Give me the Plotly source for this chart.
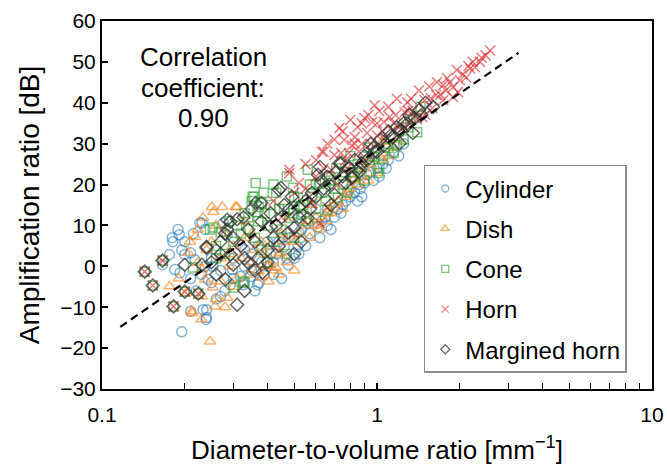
import plotly.graph_objects as go

# ---------------- data ----------------
cyl_x = [0.166,0.176,0.181,0.18,0.189,0.191,0.184,0.192,0.195,0.2,0.21,0.231,0.237,0.218,0.237,0.243,0.24,0.24,0.195,0.27,
         0.276,0.253,0.293,0.298,0.319,0.327,0.368,0.285,0.239,0.233,0.21,0.227,0.372,0.347,0.42,0.475,0.516,0.46,0.455,0.52,
         0.61,0.56,0.86,0.79,0.92,0.87,0.9,0.2,0.215,0.26,0.3,0.33,0.35,0.38,0.4,0.43,0.5,0.55,0.62,0.65,
         0.7,0.72,0.75,0.8,0.95,1.0,1.05,1.1,0.4,0.45,0.36,0.5,0.6,0.25,0.22,0.26,0.68,0.85,1.15,1.25,
         0.33,0.37,0.41,0.44,0.48,0.53,0.57,0.63,0.66,0.74,0.77,0.83,0.88,0.97,1.02,1.08,1.2,0.3,0.35,0.39,
         0.42,0.47,0.52,0.28,0.23,0.21,0.25,0.27]
cyl_y = [0.4,2.9,6,7,9,7.7,-0.8,-1.6,4,2.9,3.3,10.6,9,1.6,0,-3.2,-10.6,-12.5,-16,-7.4,
         10.6,0,-4.5,-0.8,-2.5,-4.5,-4.5,7.7,-13,-10.6,-11,10.6,-4,-2.5,-2,0.4,4.8,4.8,7.2,8.2,
         9.7,10.6,20,18.7,22.4,19,20.4,6,8,4,2,0,3,1,0,3,2,5,7,12,
         12,14,15,17,23,24,25,26,6,-3,-6,12,14,-4,-6,-8,9,16,28,30,
         4,5,3,6,7,9,8,11,10,13,16,18,17,21,22,24,27,-3,-1,-2,
         1,2,3,-6,-2,-3,2,-1]

dish_x = [0.251,0.274,0.306,0.254,0.233,0.223,0.209,0.206,0.223,0.231,0.176,0.203,0.213,0.231,0.258,0.247,0.285,0.253,0.24,0.218,
          0.237,0.27,0.212,0.31,0.447,0.403,0.42,0.403,0.4,0.44,0.43,0.38,0.68,1.0,1.04,0.26,0.28,0.3,0.32,0.29,
          0.34,0.36,0.35,0.33,0.38,0.45,0.5,0.55,0.6,0.65,0.72,0.78,0.85,0.9,0.95,1.1,1.2,0.3,0.23,0.5,
          0.47,0.57,0.62,0.75,0.82,0.48,0.58,0.19,
          0.35,0.37,0.39,0.41,0.46,0.52,0.56,0.61,0.66,0.7,0.77,0.8,0.88,0.93,1.05,1.15,0.27,0.25,0.29,0.31,
          0.26,0.28,0.33,0.44]
dish_y = [14.5,14.5,14.5,13.3,11.9,9,6,3.3,0.9,-0.8,-4.9,-6.5,-11.4,-7.4,-9.8,-18.4,-7.7,-5.2,4,7.2,
          -3.2,-3.7,-11,14.5,3.3,0.4,-1,-3.7,0,2.9,-0.3,-2.7,13,22.8,30.4,10,8,5,2,0,
          -2,4,8,11,6,8,6,10,12,11,16,18,20,24,25,27,31,-5,-13,-1,
          1,7,9,14,21,12,15,-3,
          1,-1,3,5,6,8,11,10,13,15,17,19,22,21,26,29,2,6,3,-3,
          -8,-10,7,-2]

cone_x = [0.143,0.166,0.153,0.182,0.2,0.224,0.362,0.357,0.35,0.372,0.33,0.247,0.27,0.33,0.3,0.353,0.38,0.34,0.253,0.214,
          0.327,0.495,0.495,0.53,0.56,0.387,0.368,0.43,0.516,0.62,0.66,0.72,0.53,0.48,0.81,0.94,0.88,1.44,1.39,1.4,
          1.18,1.15,0.93,0.98,1.02,0.83,1.01,0.3,0.32,0.4,0.42,0.45,0.5,0.55,0.6,0.65,0.7,0.75,0.78,0.9,
          1.05,1.1,1.25,1.3,0.28,0.26,0.38,0.44,0.58,0.68,0.47,0.4,0.36,
          0.31,0.34,0.37,0.39,0.41,0.46,0.5,0.54,0.57,0.63,0.67,0.71,0.76,0.85,0.96,1.08,1.2,1.32,0.29,0.26,
          0.42,0.47,0.6,0.8]
cone_y = [-1.3,1.4,-4.7,-9.8,-6.2,-6.7,20.4,17,16,14.5,13,9,8.4,-4,-5.2,17,15.5,12,9.5,-0.3,
          -3.7,13,19.2,14.3,23.6,18,13.3,18,16.8,20.4,13.8,16.8,12.6,11.8,23,26,24.3,39,36.3,32.8,
          29.6,27.7,29,26.7,24,21.9,22.8,6,8,10,6,9,7,11,12,16,19,20,18,21,
          27,29,31,34,3,2,4,14,17,21,3,1,7,
          10,9,11,13,15,14,17,15,20,18,22,24,23,25,27,30,33,36,11,5,
          20,22,20,27]

horn_x = [0.143,0.166,0.153,0.182,0.2,0.224,2.58,2.48,2.37,2.27,2.18,2.0,1.89,1.78,1.74,1.64,1.57,1.49,1.29,1.26,
          1.17,1.11,0.98,0.96,0.88,0.8,0.92,0.83,0.76,0.79,1.14,1.31,1.46,1.59,1.74,1.89,1.97,1.84,2.11,2.23,
          0.9,0.73,0.64,0.7,0.77,0.68,0.83,1.06,1.07,0.48,0.63,0.74,0.81,0.48,0.52,0.64,0.58,0.66,0.62,1.0,
          1.2,1.35,1.4,0.86,0.95,1.05,1.25,0.55,0.6,0.72,0.78,0.9,1.5,1.7,2.05,0.45,0.5,
          0.55,0.6,0.66,0.7,0.75,0.85,0.93,1.02,1.1,1.18,1.33,1.42,1.55,1.65,1.8,1.95,2.15,2.4,0.88,1.15,
          0.5,0.42,1.0,1.3]
horn_y = [-1.3,1.4,-4.7,-9.8,-6.2,-6.7,52.8,51.6,50,48.7,48.4,45.5,43.8,43,44.3,41.9,41.1,40.6,40.1,37.7,
          37,36.5,39.4,35.3,35,35.8,32.6,31.6,30.9,27.7,33.3,35,36.5,38.7,40.6,41.4,42.6,45,46.2,50,
          36.3,33.8,28,27.2,26,23.6,30,35.3,30.9,23.6,28,27.7,29.6,22.8,20.4,24,15.5,14.5,10.6,32,
          34,38,36,28,30,33,34,19,22,20,24,26,37,42,47,12,8,
          25,26,30,31,33,34,37,38,39,41,41,43,44,45,46,48,49,51,30,35,
          18,16,35,38]

mh_x = [0.143,0.166,0.153,0.182,0.2,0.224,0.293,0.285,0.31,0.327,0.27,0.24,0.231,0.3,0.281,0.31,0.293,0.34,0.362,0.384,
        0.2,0.24,0.285,0.44,0.35,0.447,0.61,0.74,1.0,0.88,0.81,0.7,0.56,0.5,0.475,0.38,0.41,0.52,0.86,0.66,
        1.37,1.29,1.22,1.14,1.06,0.98,0.92,0.86,0.81,0.77,1.31,1.42,1.35,1.21,0.73,0.62,0.32,0.36,0.4,0.42,
        0.45,0.48,0.55,0.58,0.64,0.68,0.75,0.95,1.1,1.5,1.6,0.37,0.44,0.5,0.26,0.33,0.53,
        0.3,0.34,0.38,0.41,0.43,0.46,0.49,0.52,0.57,0.6,0.63,0.67,0.71,0.79,0.83,0.9,0.97,1.03,1.12,1.18,
        1.25,1.45,0.27,0.25,0.33,0.36,0.4,0.28]
mh_y = [-1.3,1.4,-4.7,-9.8,-6.2,-6.7,10.9,9,11.5,12,6,4.5,0.4,0.4,-3.2,-9.4,2.9,0.9,15.5,-1.5,
        0.4,4.8,11.4,18.7,14,19.2,22.4,25.2,28,25.2,21.6,17.5,11.8,9.4,8.2,15.5,9.7,14.5,23,21.9,
        36.3,35,33.3,31.6,29.6,28,26,24,21.9,20.4,37,38.2,32.6,30.1,25.2,24.3,5,6,4,7,
        12,14,16,18,19,15,22,30,33,40,39,2,5,3,-2,-6,6,
        7,9,11,13,10,15,17,12,14,17,21,20,23,24,26,27,29,31,32,34,
        35,37,3,1,2,-1,1,8]

trend_x = [0.1165, 3.27]
trend_y = [-14.8, 52.2]

series_names = ["Cylinder", "Dish", "Cone", "Horn", "Margined horn"]
x_tickvals = [0.1, 1, 10]
x_ticktext = ["0.1", "1", "10"]
annotation_lines = ["Correlation", "coefficient:", "0.90"]
annotation_line_y = [0.902, 0.818, 0.736]

# ---------------- styles ----------------
FONT = "Arial, Liberation Sans, sans-serif"
styles = [
    ("circle-open", "rgba(31,119,180,0.55)", 10),
    ("triangle-up-open", "rgba(255,127,14,0.6)", 10),
    ("square-open", "rgba(44,160,44,0.6)", 9),
    ("x-thin-open", "rgba(214,39,40,0.6)", 10),
    ("diamond-open", "rgba(50,50,50,0.75)", 10),
]
data = [(cyl_x, cyl_y), (dish_x, dish_y), (cone_x, cone_y), (horn_x, horn_y), (mh_x, mh_y)]

fig = go.Figure()
for name, (xs, ys), (sym, col, sz) in zip(series_names, data, styles):
    fig.add_trace(go.Scatter(
        x=xs, y=ys, mode="markers", name=name, showlegend=False,
        marker=dict(symbol=sym, size=sz, color=col, line=dict(width=1.5, color=col)),
    ))

fig.add_trace(go.Scatter(
    x=trend_x, y=trend_y, mode="lines", showlegend=False,
    line=dict(color="black", width=2.2, dash="8px,5px"),
))

# legend-only traces with small symbols
for name, (sym, col, sz) in zip(series_names, styles):
    fig.add_trace(go.Scatter(
        x=[None], y=[None], mode="markers", name=name, legendgroup=name,
        marker=dict(symbol=sym, size=7, color=col, line=dict(width=1.3, color=col)),
    ))

for txt, yy in zip(annotation_lines, annotation_line_y):
    fig.add_annotation(
        text=txt, xref="paper", yref="paper", x=0.184, y=yy,
        xanchor="center", yanchor="middle", showarrow=False, align="center",
        font=dict(family=FONT, size=26, color="black"),
    )

fig.update_layout(
    width=667, height=468,
    margin=dict(l=102, r=15, t=21, b=79),
    paper_bgcolor="white", plot_bgcolor="white",
    font=dict(family=FONT, color="black"),
    legend=dict(
        x=0.585, y=0.609, xanchor="left", yanchor="top",
        bordercolor="#8c8c8c", borderwidth=1.5, bgcolor="white",
        font=dict(family=FONT, size=24, color="black"),
        traceorder="grouped", tracegroupgap=6, itemwidth=30,
    ),
    xaxis=dict(
        type="log", range=[-1, 1], tickvals=x_tickvals, ticktext=x_ticktext,
        ticks="inside", ticklen=6, tickwidth=1.5, tickcolor="black",
        showline=True, linecolor="black", linewidth=2, mirror=True,
        showgrid=False, zeroline=False, automargin=False, ticklabelstandoff=6,
        minor=dict(ticks="inside", ticklen=6, tickwidth=1.2, tickcolor="black", dtick="D1", showgrid=False),
        tickfont=dict(family=FONT, size=21),
        title=dict(text="Diameter-to-volume ratio [mm<sup>−1</sup>]", font=dict(family=FONT, size=26), standoff=16),
    ),
    yaxis=dict(
        range=[-30, 60], dtick=10,
        ticks="inside", ticklen=6, tickwidth=1.5, tickcolor="black",
        showline=True, linecolor="black", linewidth=2, mirror=True,
        showgrid=False, zeroline=False, automargin=False,
        tickfont=dict(family=FONT, size=21),
        title=dict(text="Amplification ratio [dB]", font=dict(family=FONT, size=28), standoff=12),
    ),
)

fig.write_html("out.html")
